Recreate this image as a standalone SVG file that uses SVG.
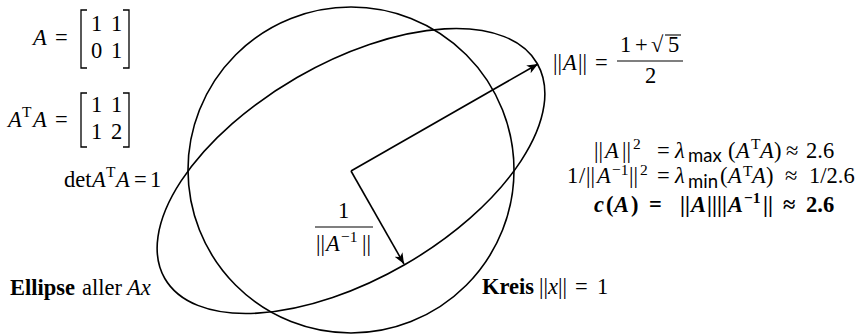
<svg xmlns="http://www.w3.org/2000/svg" width="859" height="334" viewBox="0 0 859 334">
<style>
.t{font-family:"Liberation Serif","Times New Roman",serif;font-size:22.5px;fill:#000}
.i{font-style:italic}
.b{font-weight:bold}
.sup{font-size:15.5px}
.sf{font-family:Lato,"Open Sans",sans-serif;font-size:18.5px}
.shape{fill:none;stroke:#000;stroke-width:1.6}
.br{fill:none;stroke:#000;stroke-width:1.3}
.ln{stroke:#000;stroke-width:1.1}
</style>
<defs>
<marker id="ah" markerUnits="userSpaceOnUse" markerWidth="12" markerHeight="10" refX="11" refY="4.5" orient="auto">
<path d="M0,0 L11,4.5 L0,9 L3,4.5 z" fill="#000"/>
</marker>
</defs>
<rect width="859" height="334" fill="#fff"/>

<g id="kreis">
<circle class="shape" cx="351" cy="170" r="163"/>
</g>
<g id="ellipse">
<ellipse class="shape" cx="351" cy="171" rx="215" ry="108" transform="rotate(-30 351 171)"/>
</g>

<g id="connectors">
<line class="shape" x1="351" y1="171" x2="538" y2="64" marker-end="url(#ah)"/>
<line class="shape" x1="351" y1="171" x2="404" y2="264" marker-end="url(#ah)"/>
</g>

<g id="matrixA">
<text class="t" y="45"><tspan x="33" class="i">A</tspan><tspan x="55">=</tspan></text>
<path class="br" d="M87,10 H81 V68 H87"/>
<path class="br" d="M123,10 H129 V68 H123"/>
<text class="t"><tspan x="91" y="31">1</tspan><tspan x="111" y="31">1</tspan><tspan x="91" y="58">0</tspan><tspan x="111" y="58">1</tspan></text>
</g>

<g id="matrixATA">
<text class="t" y="127"><tspan x="8" class="i">A</tspan><tspan class="sup" x="22" y="117">T</tspan><tspan x="33" y="127" class="i">A</tspan><tspan x="55">=</tspan></text>
<path class="br" d="M87,93 H81 V147 H87"/>
<path class="br" d="M123,93 H129 V147 H123"/>
<text class="t"><tspan x="91" y="112">1</tspan><tspan x="111" y="112">1</tspan><tspan x="91" y="139">1</tspan><tspan x="111" y="139">2</tspan></text>
</g>

<g id="det">
<text class="t" y="187"><tspan x="64">det</tspan><tspan x="92" class="i">A</tspan><tspan class="sup" x="106" y="177">T</tspan><tspan x="116" y="187" class="i">A</tspan><tspan x="134">=</tspan><tspan x="150">1</tspan></text>
</g>

<g id="normA">
<text class="t" y="70"><tspan x="553">||</tspan><tspan x="563" class="i">A</tspan><tspan x="578">||</tspan><tspan x="595">=</tspan></text>
<line class="ln" x1="617" y1="61" x2="683" y2="61"/>
<text class="t" y="52"><tspan x="620">1</tspan><tspan x="635">+</tspan><tspan x="651">√</tspan><tspan x="668">5</tspan></text>
<line class="ln" x1="665" y1="35" x2="681" y2="35"/>
<text class="t" y="83"><tspan x="645">2</tspan></text>
</g>

<g id="normAinv">
<text class="t" y="218"><tspan x="338">1</tspan></text>
<line class="ln" x1="315" y1="227" x2="373" y2="227"/>
<text class="t" y="251"><tspan x="316">||</tspan><tspan x="326" class="i">A</tspan><tspan class="sup" x="341" y="242">−1</tspan><tspan x="362" y="251">||</tspan></text>
</g>

<g id="rightblock">
<text class="t" y="158"><tspan x="594">||</tspan><tspan x="605" class="i">A</tspan><tspan x="622">||</tspan><tspan class="sup" x="633" y="149">2</tspan><tspan x="657" y="158">=</tspan><tspan x="675" class="i">λ</tspan><tspan class="sf" x="688" y="162">max</tspan><tspan x="728" y="158">(</tspan><tspan x="736" class="i">A</tspan><tspan class="sup" x="751" y="149">T</tspan><tspan x="760" y="158" class="i">A</tspan><tspan x="774">)</tspan><tspan x="786">≈</tspan><tspan x="806">2.6</tspan></text>
<text class="t" y="183"><tspan x="567">1</tspan><tspan x="579">/</tspan><tspan x="586">||</tspan><tspan x="597" class="i">A</tspan><tspan class="sup" x="612" y="175">−1</tspan><tspan x="629" y="183">||</tspan><tspan class="sup" x="640" y="175">2</tspan><tspan x="657" y="183">=</tspan><tspan x="675" class="i">λ</tspan><tspan class="sf" x="688" y="188">min</tspan><tspan x="720" y="183">(</tspan><tspan x="728" class="i">A</tspan><tspan class="sup" x="743" y="176">T</tspan><tspan x="752" y="183" class="i">A</tspan><tspan x="766">)</tspan><tspan x="785">≈</tspan><tspan x="809">1/2.6</tspan></text>
<text class="t b" y="212"><tspan x="594" class="i">c</tspan><tspan x="606">(</tspan><tspan x="614" class="i">A</tspan><tspan x="631">)</tspan><tspan x="649">=</tspan><tspan x="680">||</tspan><tspan x="691" class="i">A</tspan><tspan x="707">||</tspan><tspan x="717">||</tspan><tspan x="728" class="i">A</tspan><tspan class="sup" x="744" y="203">−1</tspan><tspan x="763" y="212">||</tspan><tspan x="783">≈</tspan><tspan x="806">2.6</tspan></text>
</g>

<g id="labelEllipse">
<text class="t" y="295"><tspan x="10" class="b">Ellipse</tspan><tspan x="82">aller</tspan><tspan x="127" class="i">Ax</tspan></text>
</g>
<g id="labelKreis">
<text class="t" y="294"><tspan x="482" class="b">Kreis</tspan><tspan x="539">||</tspan><tspan x="548" class="i">x</tspan><tspan x="558">||</tspan><tspan x="575">=</tspan><tspan x="597">1</tspan></text>
</g>
</svg>
